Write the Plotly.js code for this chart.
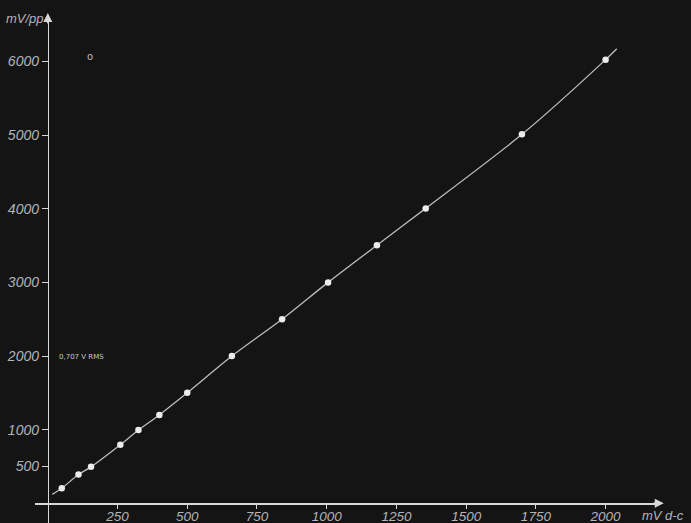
<!DOCTYPE html>
<html>
<head>
<meta charset="utf-8">
<script src="https://cdn.plot.ly/plotly-3.0.1.min.js"></script>
<style>
  html, body { margin: 0; padding: 0; background: #141414; }
  #chart { width: 691px; height: 523px; }
</style>
</head>
<body>
<div id="chart"></div>
<script>
// Measured points: input mV d-c vs output mV/pp
const inputMv = [50, 110, 155, 260, 325, 400, 500, 660, 840, 1005, 1180, 1355, 1700, 2000];
const outputMvpp = [205, 390, 495, 795, 995, 1200, 1500, 2000, 2500, 3000, 3505, 4005, 5010, 6025];

// Hand-drawn calibration curve (runs slightly past first/last points)
const curveX = [16, 50, 110, 155, 260, 325, 400, 500, 660, 840, 1005, 1180, 1355, 1700, 2000, 2040];
const curveY = [122, 205, 390, 495, 795, 995, 1200, 1500, 2000, 2500, 3000, 3505, 4005, 5010, 6025, 6173];

const xTickVals = [250, 500, 750, 1000, 1250, 1500, 1750, 2000];
const xTickText = ['250', '500', '750', '1000', '1250', '1500', '1750', '2000'];
const yTickVals = [500, 1000, 2000, 3000, 4000, 5000, 6000];
const yTickText = ['500', '1000', '2000', '3000', '4000', '5000', '6000'];

const tickFont = { family: 'Liberation Sans, Arial, sans-serif', size: 14, color: '#b4b4b4', style: 'italic' };
const xTickFont = { family: 'Liberation Sans, Arial, sans-serif', size: 13.5, color: '#b4b4b4', style: 'italic' };
const axisCol = '#d8d8d8';

const traces = [
  {
    x: curveX, y: curveY, type: 'scatter', mode: 'lines',
    line: { color: '#bdbdbd', width: 1.3, shape: 'spline', smoothing: 0.8 },
    hoverinfo: 'skip'
  },
  {
    x: inputMv, y: outputMvpp, type: 'scatter', mode: 'markers',
    marker: { color: '#ececec', size: 6.5, line: { width: 0 } }
  }
];

const layout = {
  width: 691, height: 523,
  margin: { l: 35, r: 31, t: 15, b: 0 },
  paper_bgcolor: '#141414',
  plot_bgcolor: '#141414',
  showlegend: false,
  xaxis: {
    range: [-45.9, 2195],
    anchor: 'free', position: 0.0388,
    showline: true, linecolor: axisCol, linewidth: 1.6,
    showgrid: false, zeroline: false,
    tickmode: 'array', tickvals: xTickVals, ticktext: xTickText,
    ticks: 'outside', ticklen: 4, tickwidth: 1, tickcolor: axisCol,
    ticklabelstandoff: -4,
    tickfont: xTickFont
  },
  yaxis: {
    range: [-267.5, 6631],
    anchor: 'free', position: 0.0205,
    showline: true, linecolor: axisCol, linewidth: 1.4,
    showgrid: false, zeroline: false,
    tickmode: 'array', tickvals: yTickVals, ticktext: yTickText,
    ticks: 'outside', ticklen: 6, tickwidth: 1, tickcolor: axisCol,
    tickfont: tickFont
  },
  annotations: [
    { // y axis arrowhead
      xref: 'paper', yref: 'paper', x: 0.0205, y: 1.004,
      text: '', showarrow: true, arrowhead: 2, arrowsize: 1.2, arrowwidth: 1.5,
      arrowcolor: axisCol, ax: 0, ay: 12
    },
    { // x axis arrowhead
      xref: 'paper', yref: 'paper', x: 1.006, y: 0.0388,
      text: '', showarrow: true, arrowhead: 2, arrowsize: 1.2, arrowwidth: 1.5,
      arrowcolor: axisCol, ax: -12, ay: 0
    },
    {
      xref: 'paper', yref: 'paper', x: -0.05, y: 0.994,
      xanchor: 'left', yanchor: 'middle', showarrow: false,
      text: 'mV/pp', font: { family: 'Liberation Sans, Arial, sans-serif', size: 13, color: '#b4b4b4', style: 'italic' }
    },
    {
      xref: 'paper', yref: 'paper', x: 0.968, y: 0.0157,
      xanchor: 'left', yanchor: 'middle', showarrow: false,
      text: 'mV d-c', font: { family: 'Liberation Sans, Arial, sans-serif', size: 13, color: '#b4b4b4', style: 'italic' }
    },
    {
      xref: 'x', yref: 'y', x: 33, y: 1990,
      xanchor: 'left', yanchor: 'middle', showarrow: false,
      text: '0,707 V RMS', font: { family: 'DejaVu Sans, sans-serif', size: 7, color: '#c8c8c8' }
    },
    {
      xref: 'paper', yref: 'paper', x: 0.088, y: 0.918,
      xanchor: 'center', yanchor: 'middle', showarrow: false,
      text: 'o', font: { family: 'DejaVu Sans, sans-serif', size: 10, color: '#bbbbbb' }
    }
  ]
};

Plotly.newPlot('chart', traces, layout, { staticPlot: true, displayModeBar: false });
</script>
</body>
</html>
